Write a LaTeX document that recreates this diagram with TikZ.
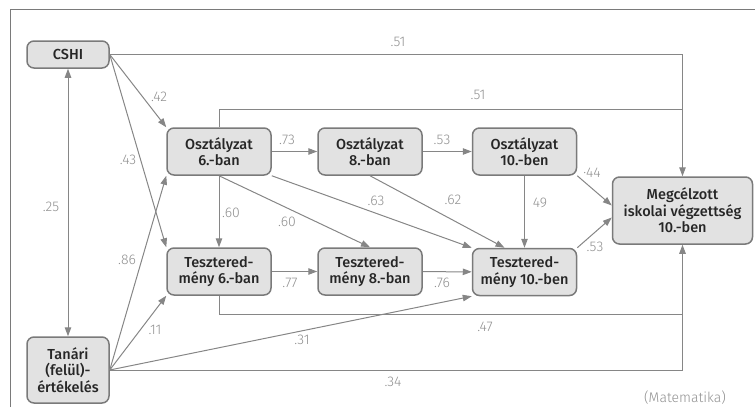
\documentclass[tikz,border=0pt]{standalone}
\usepackage{fontspec}
\setmainfont{Fira Sans}[BoldFont={Fira Sans Medium}]
\newfontfamily\lightfont{Fira Sans Light}
\usetikzlibrary{positioning, arrows.meta}
\definecolor{boxfill}{HTML}{E2E2E2}
\definecolor{boxline}{HTML}{7A7A7A}
\definecolor{edgegray}{HTML}{868686}
\definecolor{labelgray}{HTML}{909090}

\begin{document}
\begin{tikzpicture}[x=1pt, y=-1pt,
        var/.style={rectangle, rounded corners=7pt, draw=boxline, line width=1.5pt, fill=boxfill, align=center, inner sep=0pt, text=black!85, font=\fontsize{14.5}{16.5}\selectfont\bfseries},
        line/.style={draw=edgegray, line width=1pt},
        path/.style={line, -{Triangle[length=9pt, width=6.5pt]}},
        twoway/.style={line, {Triangle[length=9pt, width=6.5pt]}-{Triangle[length=9pt, width=6.5pt]}},
        coef/.style={text=labelgray, inner sep=0pt, font=\fontsize{14}{16}\lightfont}]
        \useasboundingbox (0,0) rectangle (755,407);
        \draw[boxline, line width=0.8pt] (10,407) -- (10,9) -- (755,9);

        % variables
        \node[var, minimum width=82pt, minimum height=27pt] (cshi) at (68,54.5) {CSHI};
        \node[var, minimum width=82pt, minimum height=66pt] (tanari) at (68,370) {Tanári\\(felül)-\\értékelés};
        \node[var, minimum width=104pt, minimum height=47pt] (o6) at (219,151.5) {Osztályzat\\6.-ban};
        \node[var, minimum width=104pt, minimum height=47pt] (o8) at (370,151.5) {Osztályzat\\8.-ban};
        \node[var, minimum width=104pt, minimum height=47pt] (o10) at (524.5,151.5) {Osztályzat\\10.-ben};
        \node[var, minimum width=104pt, minimum height=47pt] (t6) at (219,271.5) {Tesztered-\\mény 6.-ban};
        \node[var, minimum width=104pt, minimum height=47pt] (t8) at (370,271.5) {Tesztered-\\mény 8.-ban};
        \node[var, minimum width=104pt, minimum height=47pt] (t10) at (524.5,272) {Tesztered-\\mény 10.-ben};
        \node[var, minimum width=140pt, minimum height=67pt] (goal) at (682.5,210.5) {Megcélzott\\iskolai végzettség\\10.-ben};
        \coordinate (top) at (682.5,109);
        \coordinate (bot) at (682.5,314);

        % paths
        \draw[path] (cshi.east) -| (goal.north);
        \draw[line] (o6.north) |- (top);
        \draw[line] (t6.south) |- (bot);
        \draw[path] (tanari.east) -| (goal.south);
        \draw[twoway] (cshi) -- (tanari);
        \draw[path] (cshi.east) -- (o6.north west);
        \draw[path] (cshi.east) -- (t6.north west);
        \draw[path] (tanari.east) -- (o6.south west);
        \draw[path] (tanari.east) -- (t6.south west);
        \draw[path] (tanari.east) -- (t10.south west);
        \draw[path] (o6) -- (o8);
        \draw[path] (o8) -- (o10);
        \draw[path] (o10.south east) -- ([yshift=5pt]goal.west);
        \draw[path] (o10) -- (t10);
        \draw[path] (o8.south) -- ([xshift=-20pt]t10.north);
        \draw[path] (o6.south east) -- (t10.north west);
        \draw[path] (o6) -- (t6);
        \draw[path] (o6.south) -- (t8.north);
        \draw[path] (t6) -- (t8);
        \draw[path] (t8) -- (t10);
        \draw[path] (t10.north east) -- ([yshift=-7pt]goal.west);

        % coefficients
        \node[coef] (c1) at (398,42) {.51};
        \node[coef] (c2) at (478,95) {.51};
        \node[coef] (c3) at (159,97) {.42};
        \node[coef] (c4) at (128,160) {.43};
        \node[coef] (c5) at (51,207) {.25};
        \node[coef] (c6) at (287,140) {.73};
        \node[coef] (c7) at (442,140) {.53};
        \node[coef] (c8) at (592,173) {·44};
        \node[coef] (c9) at (540,203) {49};
        \node[coef] (c10) at (453,200) {.62};
        \node[coef] (c11) at (376,201) {.63};
        \node[coef] (c12) at (231,213) {.60};
        \node[coef] (c13) at (287,222) {.60};
        \node[coef] (c14) at (127,260) {.86};
        \node[coef] (c15) at (155,330) {.11};
        \node[coef] (c16) at (290,283) {.77};
        \node[coef] (c17) at (442,283) {.76};
        \node[coef] (c18) at (595,247) {.53};
        \node[coef] (c19) at (302,340) {.31};
        \node[coef] (c20) at (485,327) {.47};
        \node[coef] (c21) at (393,382) {.34};
        \node[coef] (src) at (685,398) {(Matematika)};
\end{tikzpicture}
\end{document}
